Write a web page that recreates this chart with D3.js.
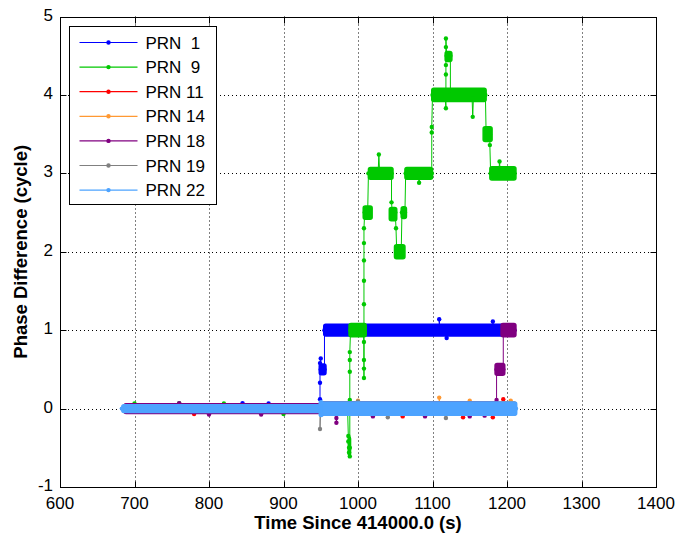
<!DOCTYPE html>
<head>
    <meta charset="utf-8">
    <script src="https://cdnjs.cloudflare.com/ajax/libs/d3/7.9.0/d3.js"></script>
    <style>
        body { margin: 0; background: #fff; }
        text { font-family: "Liberation Sans", Arial, sans-serif; }
    </style>
</head>
<body>
    <div id="chart"></div>
</body>
<script>

// Values.
// trace = [time, phase] points joined by the line, bands = [t0, t1, level, half spread] of the noisy plateaus

const prnNames = ["PRN  1", "PRN  9", "PRN 11", "PRN 14", "PRN 18", "PRN 19", "PRN 22"]
const prnColors = ["#0000ff", "#00c800", "#ff0000", "#ff9933", "#800080", "#808080", "#4da3ff"]

const prn1Trace = [[686, 0], [845, 0], [845, 0.07], [846, 0], [880, 0], [880, 0.065], [881, 0],
    [949, 0], [949, 0.12], [949, 0.33], [949, 0.58], [950, 0.64], [950, 0.5],
    [955, 0.5], [955, 1], [1109, 1], [1109, 1.14], [1110, 1], [1119, 1], [1119, 0.9], [1120, 1],
    [1181, 1], [1181, 1.11], [1182, 1], [1210, 1]]
const prn1Bands = [[686, 949, 0, 0.05], [948, 957, 0.5, 0.07], [954, 1211, 1, 0.075]]

const prn9Trace = [[686, 0], [700, 0], [700, 0.065], [701, 0], [760, 0], [760, 0.07], [761, 0],
    [820, 0], [820, 0.065], [821, 0], [900, 0], [900, -0.07], [901, 0],
    [986, 0], [987, -0.35], [987, -0.42], [988, -0.5], [988, -0.56], [989, -0.61],
    [989, -0.5], [989, 0.11], [989, 0.47], [989, 0.62], [989, 0.72], [990, 1], [1007, 1], [1008, 0.85],
    [1008, 0.62], [1008, 0.39], [1008, 0.51], [1008, 1.33], [1008, 1.63], [1008, 1.89], [1008, 2.11],
    [1008, 2.3], [1009, 2.5], [1013, 2.5], [1014, 3], [1027, 3], [1028, 3.24], [1029, 3], [1045, 3],
    [1045, 2.63], [1046, 2.5], [1050, 2.5], [1051, 2.3], [1052, 2], [1058, 2], [1059, 2.5], [1063, 2.5],
    [1064, 3], [1081, 3], [1082, 2.88], [1083, 3], [1099, 3], [1099, 3.52], [1099, 3.59], [1100, 4],
    [1117, 4], [1118, 3.83], [1118, 4.26], [1118, 4.38], [1118, 4.61], [1118, 4.72], [1119, 4.5],
    [1124, 4.5], [1124, 4], [1153, 4], [1154, 3.72], [1155, 4], [1171, 4], [1172, 3.5], [1177, 3.5],
    [1177, 3.36], [1178, 3], [1189, 3], [1190, 3.15], [1191, 3], [1210, 3]]
const prn9Bands = [[686, 986, 0, 0.05], [987, 990, -0.48, 0.12], [988, 1011, 1, 0.085],
    [1007, 1019, 2.5, 0.085], [1014, 1047, 3, 0.075], [1042, 1052, 2.48, 0.085], [1049, 1063, 2, 0.09],
    [1058, 1065, 2.5, 0.075], [1063, 1100, 3, 0.075], [1099, 1172, 4, 0.085], [1117, 1126, 4.49, 0.065],
    [1168, 1180, 3.5, 0.095], [1177, 1212, 3, 0.085]]

const prn11Trace = [[686, 0], [780, 0], [780, -0.07], [781, 0], [1060, 0], [1060, -0.1], [1061, 0],
    [1141, 0], [1141, -0.11], [1142, 0], [1181, 0], [1181, -0.11], [1182, 0],
    [1195, 0], [1195, 0.12], [1196, 0], [1211, 0]]
const prn11Bands = [[686, 949, 0, 0.055], [949, 1212, 0, 0.08]]

const prn14Trace = [[686, 0], [1000, 0], [1000, 0.1], [1001, 0], [1109, 0], [1109, 0.14], [1110, 0],
    [1150, 0], [1150, 0.1], [1151, 0], [1205, 0], [1205, 0.1], [1206, 0], [1211, 0]]
const prn14Bands = [[686, 949, 0, 0.055], [949, 1212, 0, 0.085]]

const prn18Trace = [[686, 0], [760, 0], [760, 0.07], [761, 0], [800, 0], [800, -0.075], [801, 0],
    [870, 0], [870, -0.075], [871, 0], [970, 0], [971, -0.12], [971, -0.18], [972, 0],
    [1020, 0], [1020, -0.1], [1021, 0], [1090, 0], [1090, -0.1], [1091, 0], [1150, 0], [1150, -0.1],
    [1151, 0], [1170, 0], [1170, -0.09], [1171, 0], [1186, 0], [1186, 0.11],
    [1186, 0.5], [1195, 0.5], [1195, 1], [1210, 1]]
const prn18Bands = [[686, 949, 0, 0.062], [949, 1186, 0, 0.085], [1184, 1197, 0.5, 0.075],
    [1192, 1212, 1, 0.085]]

const prn19Trace = [[686, 0], [949, 0], [949, -0.26], [950, 0], [1000, 0], [1000, 0.09], [1001, 0],
    [1040, 0], [1040, -0.11], [1041, 0], [1118, 0], [1118, -0.12], [1119, 0], [1211, 0]]
const prn19Bands = [[686, 949, 0, 0.045], [949, 1212, 0, 0.08]]

const prn22Trace = [[683, 0], [1212, 0]]
const prn22Bands = [[683, 949, 0, 0.05], [948, 953, 0, 0.1], [952, 1213, 0, 0.085]]

const xTicks = [600, 700, 800, 900, 1000, 1100, 1200, 1300, 1400]
const yTicks = [-1, 0, 1, 2, 3, 4, 5]

const traces = [prn1Trace, prn9Trace, prn11Trace, prn14Trace, prn18Trace, prn19Trace, prn22Trace]
const bands = [prn1Bands, prn9Bands, prn11Bands, prn14Bands, prn18Bands, prn19Bands, prn22Bands]

const series = prnNames.map((name, i) => ({
    name: name,
    color: prnColors[i],
    trace: traces[i].map(d => ({t: d[0], v: d[1]})),
    bands: bands[i].map(d => ({t0: d[0], t1: d[1], v: d[2], s: d[3]}))
}))

// svg and scales

const W = 677
const H = 537
const plot = {left: 60, right: 656, top: 16.5, bottom: 487}

const svg = d3.select("#chart")
    .append("svg")
    .attr("width", W)
    .attr("height", H)

const x = d3.scaleLinear().domain([600, 1400]).range([plot.left, plot.right])
const y = d3.scaleLinear().domain([-1, 5]).range([plot.bottom, plot.top])

const px = v => Math.round(v) + 0.5

// dotted grid

svg.append("g")
    .selectAll("line")
    .data(xTicks.slice(1, -1))
    .join("line")
    .attr("x1", d => px(x(d))).attr("x2", d => px(x(d)))
    .attr("y1", plot.top).attr("y2", plot.bottom)
    .attr("stroke", "#000")
    .attr("stroke-dasharray", "1,3")

svg.append("g")
    .selectAll("line")
    .data(yTicks.slice(1, -1))
    .join("line")
    .attr("y1", d => px(y(d))).attr("y2", d => px(y(d)))
    .attr("x1", plot.left).attr("x2", plot.right)
    .attr("stroke", "#000")
    .attr("stroke-dasharray", "1,3")

// data

const line = d3.line()
    .x(d => x(d.t))
    .y(d => y(d.v))

const layers = svg.append("g")
    .selectAll("g")
    .data(series)
    .join("g")

layers.append("path")
    .attr("d", d => line(d.trace))
    .attr("fill", "none")
    .attr("stroke", d => d.color)
    .attr("stroke-width", 1)

layers.each(function(d) {
    d3.select(this).selectAll("rect")
        .data(d.bands)
        .join("rect")
        .attr("x", b => x(b.t0))
        .attr("y", b => y(b.v + b.s))
        .attr("width", b => x(b.t1) - x(b.t0))
        .attr("height", b => y(b.v - b.s) - y(b.v + b.s))
        .attr("rx", 2)
        .attr("fill", d.color)
        .attr("stroke", d.color)
        .attr("stroke-width", 1.5)
        .attr("stroke-linejoin", "round")

    d3.select(this).selectAll("circle")
        .data(d.trace)
        .join("circle")
        .attr("cx", p => x(p.t))
        .attr("cy", p => y(p.v))
        .attr("r", 2.2)
        .attr("fill", d.color)
})

// box, ticks on all four sides

const box = svg.append("g")

box.append("rect")
    .attr("x", px(plot.left)).attr("y", px(plot.top))
    .attr("width", Math.round(plot.right) - Math.round(plot.left))
    .attr("height", Math.round(plot.bottom) - Math.round(plot.top))
    .attr("fill", "none")
    .attr("stroke", "#000")

const tickLen = 6

xTicks.forEach(t => {
    box.append("line")
        .attr("x1", px(x(t))).attr("x2", px(x(t)))
        .attr("y1", px(plot.bottom)).attr("y2", px(plot.bottom) - tickLen)
        .attr("stroke", "#000")
    box.append("line")
        .attr("x1", px(x(t))).attr("x2", px(x(t)))
        .attr("y1", px(plot.top)).attr("y2", px(plot.top) + tickLen)
        .attr("stroke", "#000")
})

yTicks.forEach(v => {
    box.append("line")
        .attr("y1", px(y(v))).attr("y2", px(y(v)))
        .attr("x1", px(plot.left)).attr("x2", px(plot.left) + tickLen)
        .attr("stroke", "#000")
    box.append("line")
        .attr("y1", px(y(v))).attr("y2", px(y(v)))
        .attr("x1", px(plot.right)).attr("x2", px(plot.right) - tickLen)
        .attr("stroke", "#000")
})

// tick labels

svg.append("g")
    .selectAll("text")
    .data(xTicks)
    .join("text")
    .attr("x", d => x(d))
    .attr("y", plot.bottom + 22)
    .attr("text-anchor", "middle")
    .attr("font-size", 17)
    .text(d => d)

svg.append("g")
    .selectAll("text")
    .data(yTicks)
    .join("text")
    .attr("x", plot.left - 7)
    .attr("y", d => y(d) + 4)
    .attr("text-anchor", "end")
    .attr("font-size", 17)
    .text(d => d)

// axis titles

svg.append("text")
    .attr("x", (plot.left + plot.right) / 2)
    .attr("y", 529)
    .attr("text-anchor", "middle")
    .attr("font-size", 18.5)
    .attr("font-weight", "bold")
    .text("Time Since 414000.0 (s)")

svg.append("text")
    .attr("transform", `translate(27, ${(plot.top + plot.bottom) / 2}) rotate(-90)`)
    .attr("text-anchor", "middle")
    .attr("font-size", 18.5)
    .attr("font-weight", "bold")
    .text("Phase Difference (cycle)")

// legend

const legend = svg.append("g").attr("transform", "translate(69.5, 26.5)")

legend.append("rect")
    .attr("width", 147)
    .attr("height", 178)
    .attr("fill", "#fff")
    .attr("stroke", "#000")

const entry = legend.selectAll("g")
    .data(series)
    .join("g")
    .attr("transform", (d, i) => `translate(0, ${16 + i * 24.6})`)

entry.append("line")
    .attr("x1", 10).attr("x2", 68)
    .attr("stroke", d => d.color)
    .attr("stroke-width", 1.2)

entry.append("circle")
    .attr("cx", 39)
    .attr("r", 2.2)
    .attr("fill", d => d.color)

entry.append("text")
    .attr("x", 76)
    .attr("y", 6)
    .attr("font-size", 17)
    .style("white-space", "pre")
    .text(d => d.name)

</script>
